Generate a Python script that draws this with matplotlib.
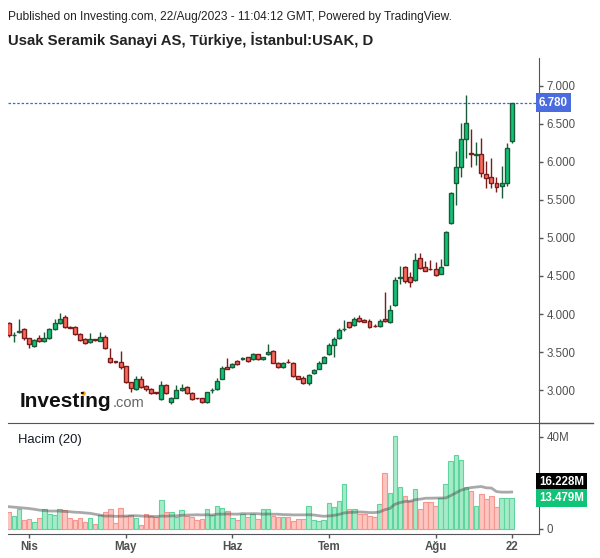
import matplotlib
matplotlib.use("Agg")
import matplotlib.pyplot as plt
from matplotlib.lines import Line2D
import numpy as np
import pandas as pd

plt.rcParams['font.family'] = ['Liberation Sans', 'DejaVu Sans']

# daily OHLC, Mar 28 - Aug 22 2023 (trading days)
opens = [3.88, 3.72, 3.76, 3.80, 3.68, 3.58, 3.68, 3.64, 3.68, 3.80,
         3.88, 3.96, 3.83, 3.83, 3.74, 3.67, 3.63, 3.665, 3.65, 3.70,
         3.42, 3.375, 3.37, 3.31, 3.10, 3.01, 3.15, 3.05, 3.01, 2.965,
         2.88, 3.07, 2.84, 2.90, 3.00, 3.04, 2.96, 2.895, 2.89, 2.84,
         2.995, 3.01, 3.15, 3.30, 3.30, 3.38, 3.41, 3.43, 3.41, 3.47,
         3.41, 3.47, 3.51, 3.36, 3.30, 3.37, 3.36, 3.18, 3.16, 3.09,
         3.22, 3.28, 3.36, 3.47, 3.59, 3.68, 3.80, 3.89, 3.85, 3.95,
         3.92, 3.91, 3.845, 3.84, 3.93, 3.89, 4.12, 4.48, 4.62, 4.49,
         4.45, 4.74, 4.62, 4.595, 4.59, 4.53, 4.65, 5.20, 5.72, 5.93,
         6.30, 6.12, 6.09, 6.10, 5.84, 5.80, 5.72, 5.69, 5.72, 6.28]
highs = [3.89, 3.76, 3.93, 3.82, 3.69, 3.67, 3.72, 3.76, 3.81, 3.93,
         4.01, 3.99, 3.84, 3.84, 3.75, 3.68, 3.75, 3.67, 3.76, 3.72,
         3.55, 3.38, 3.51, 3.32, 3.11, 3.19, 3.18, 3.06, 3.02, 2.97,
         3.12, 3.08, 2.91, 3.07, 3.08, 3.05, 2.97, 2.90, 2.90, 2.98,
         3.03, 3.16, 3.31, 3.42, 3.36, 3.39, 3.44, 3.44, 3.49, 3.48,
         3.44, 3.60, 3.52, 3.37, 3.37, 3.41, 3.37, 3.19, 3.18, 3.21,
         3.28, 3.38, 3.45, 3.62, 3.70, 3.82, 3.92, 3.90, 3.96, 3.99,
         3.93, 3.93, 3.87, 3.93, 4.29, 4.12, 4.49, 4.63, 4.63, 4.55,
         4.80, 4.80, 4.70, 4.71, 4.68, 4.72, 5.09, 5.60, 6.14, 6.51,
         6.88, 6.43, 6.26, 6.32, 6.01, 6.05, 5.80, 5.95, 6.25, 6.78]
lows = [3.70, 3.63, 3.75, 3.66, 3.55, 3.57, 3.63, 3.63, 3.67, 3.79,
        3.87, 3.82, 3.81, 3.73, 3.64, 3.61, 3.62, 3.64, 3.64, 3.54,
        3.36, 3.36, 3.28, 3.09, 2.97, 3.00, 3.03, 2.99, 2.95, 2.95,
        2.87, 2.95, 2.82, 2.89, 2.99, 2.95, 2.87, 2.88, 2.83, 2.83,
        2.96, 3.00, 3.14, 3.27, 3.29, 3.33, 3.40, 3.37, 3.40, 3.40,
        3.40, 3.46, 3.35, 3.29, 3.29, 3.36, 3.17, 3.14, 3.08, 3.07,
        3.21, 3.27, 3.35, 3.46, 3.43, 3.67, 3.78, 3.82, 3.84, 3.90,
        3.89, 3.82, 3.83, 3.83, 3.90, 3.88, 4.11, 4.40, 4.41, 4.36,
        4.44, 4.59, 4.56, 4.58, 4.50, 4.52, 4.64, 5.18, 5.43, 5.80,
        6.05, 5.93, 5.96, 5.80, 5.66, 5.66, 5.60, 5.53, 5.68, 6.25]
closes = [3.72, 3.73, 3.77, 3.68, 3.60, 3.66, 3.64, 3.68, 3.80, 3.88,
          3.93, 3.83, 3.82, 3.74, 3.66, 3.62, 3.67, 3.655, 3.70, 3.55,
          3.37, 3.37, 3.30, 3.10, 3.03, 3.15, 3.04, 3.01, 2.96, 2.96,
          3.07, 2.96, 2.90, 3.00, 3.03, 2.96, 2.88, 2.89, 2.84, 2.97,
          3.00, 3.12, 3.29, 3.28, 3.34, 3.34, 3.42, 3.38, 3.47, 3.41,
          3.43, 3.50, 3.36, 3.30, 3.36, 3.365, 3.18, 3.15, 3.09, 3.20,
          3.26, 3.36, 3.43, 3.59, 3.67, 3.79, 3.805, 3.83, 3.93, 3.91,
          3.90, 3.83, 3.84, 3.91, 3.91, 4.05, 4.45, 4.49, 4.43, 4.42,
          4.71, 4.61, 4.57, 4.59, 4.51, 4.62, 5.08, 5.59, 5.93, 6.30,
          6.51, 6.11, 6.10, 5.86, 5.79, 5.72, 5.67, 5.72, 6.18, 6.78]

# volume in millions
volume = [7.2, 5.4, 8.4, 3.8, 4.2, 2.9, 4.6, 8.8, 6.4, 6.0,
          8.8, 8.1, 4.5, 3.8, 4.5, 2.9, 4.5, 2.0, 5.8, 7.2,
          8.4, 2.3, 9.0, 5.7, 6.0, 4.5, 1.6, 6.3, 5.4, 4.9,
          12.6, 7.2, 7.2, 4.9, 8.1, 5.7, 5.2, 3.9, 4.2, 8.8,
          5.9, 9.7, 9.0, 7.8, 4.5, 3.9, 6.5, 4.9, 6.5, 4.2,
          8.4, 8.8, 5.4, 4.9, 4.9, 4.9, 3.3, 4.2, 4.2, 10.1,
          3.8, 3.3, 3.8, 11.0, 9.3, 12.0, 19.7, 8.8, 8.8, 6.4,
          6.6, 5.4, 5.0, 10.6, 24.4, 15.7, 40.3, 18.4, 14.1, 12.0,
          17.2, 8.4, 11.6, 11.6, 10.1, 13.2, 19.3, 29.7, 32.3, 30.1,
          18.4, 16.4, 9.7, 15.1, 12.8, 14.1, 9.3, 13.6, 13.6, 13.479]
# MA(20) values for the first bars (earlier history is off-chart)
vol_ma_start = [9.6, 9.4, 9.2, 9.0, 8.8, 8.5, 8.1, 7.9, 7.7, 7.7,
                7.7, 7.5, 7.4, 7.2, 7.1, 6.9, 6.7, 6.3, 5.9]
vol_ma_last = 16.228

month_ticks = [4, 23, 44, 63, 84, 99]
month_labels = ["Nis", "May", "Haz", "Tem", "Ağu", "22"]

W, H = 600, 558
fig = plt.figure(figsize=(W / 100, H / 100), dpi=100)

def fx(px):
    return px / W

def fy(py):
    return 1 - py / H

ax = fig.add_axes([fx(7.5), fy(423), fx(539 - 7.5), (423 - 58) / H])
ax2 = fig.add_axes([fx(7.5), fy(534), fx(539 - 7.5), (534 - 423) / H])

idx = np.arange(len(closes))
o = np.array(opens)
c = np.array(closes)
up = c >= o

green, green_edge = "#10c477", "#1b5a38"
red, red_edge = "#fb6b5c", "#7a1c1c"

ax.vlines(idx, lows, highs, colors=np.where(up, green_edge, red_edge), lw=1, zorder=2)
body_bot = np.minimum(o, c)
body_h = np.maximum(np.abs(c - o), 0.008)
ax.bar(idx, body_h, bottom=body_bot, width=0.78,
       color=np.where(up, green, red), edgecolor=np.where(up, green_edge, red_edge),
       linewidth=1, zorder=3)

ax.axhline(closes[-1], color="#3f63dc", lw=0.9, ls=(0, (2, 1.5)), zorder=1)

ax.set_xlim(-0.26, 104.37)
ax.set_ylim(2.566, 7.368)
ax.set_yticks(np.arange(3.0, 7.01, 0.5))
ax.set_yticklabels([f"{v:.3f}" for v in np.arange(3.0, 7.01, 0.5)])
ax.yaxis.tick_right()
ax.tick_params(axis="y", colors="#555555", labelcolor="#505050", labelsize=8.3,
               length=3, width=1, pad=2.5)
ax.set_xticks([])
for s in ["top", "left", "bottom"]:
    ax.spines[s].set_visible(False)
ax.spines["right"].set_color("#555555")

ax.text(1.0, closes[-1], f"{closes[-1]:.3f}", transform=ax.get_yaxis_transform(),
        ha="left", va="center", color="white", fontsize=8.3, fontweight="bold",
        bbox=dict(boxstyle="square,pad=0.28", fc="#4a6cdf", ec="none"), zorder=5,
        clip_on=False)

# volume panel
vol_up_fill, vol_up_edge = "#a6ebc9", "#5fd49d"
vol_dn_fill, vol_dn_edge = "#fdc5c0", "#f5978e"
ax2.bar(idx, volume, width=0.9, color=np.where(up, vol_up_fill, vol_dn_fill),
        edgecolor=np.where(up, vol_up_edge, vol_dn_edge), linewidth=0.8, zorder=2)
ma = pd.Series(volume).rolling(20).mean().to_numpy()
ma[:len(vol_ma_start)] = vol_ma_start
ax2.plot(idx, ma, color="#555555", alpha=0.5, lw=2, zorder=3)

ax2.set_xlim(-0.26, 104.37)
ax2.set_ylim(-2.31, 46.1)
ax2.yaxis.tick_right()
ax2.set_yticks([0, 40])
ax2.set_yticklabels(["0", "40M"])
ax2.tick_params(axis="y", colors="#555555", labelcolor="#505050", labelsize=8.3,
                length=3, width=1, pad=2.5)
ax2.set_xticks(month_ticks)
ax2.set_xticklabels(month_labels, fontweight="bold")
ax2.tick_params(axis="x", colors="#555555", labelcolor="#505050", labelsize=8.3,
                length=3, width=1, pad=2)
ax2.spines["left"].set_visible(False)
for s in ["top", "right", "bottom"]:
    ax2.spines[s].set_color("#555555")

ax2.text(1.0, 0.468, f"{vol_ma_last:.3f}M", transform=ax2.transAxes,
         ha="left", va="center", color="white", fontsize=8.3, fontweight="bold",
         bbox=dict(boxstyle="square,pad=0.28", fc="black", ec="none"), zorder=5,
         clip_on=False)
ax2.text(1.0, volume[-1], f"{volume[-1]:.3f}M", transform=ax2.get_yaxis_transform(),
         ha="left", va="center", color="white", fontsize=8.3, fontweight="bold",
         bbox=dict(boxstyle="square,pad=0.28", fc="#10c477", ec="none"), zorder=5,
         clip_on=False)
ax2.text(fx(18 - 7.5) / fx(539 - 7.5), 0.85, "Hacim (20)", transform=ax2.transAxes,
         ha="left", va="center", fontsize=9.4, color="#131722")

# separator line continues past the price scale
fig.add_artist(Line2D([fx(539), fx(593)], [fy(423), fy(423)], color="#555555", lw=1))

fig.text(fx(8), fy(17), "Published on Investing.com, 22/Aug/2023 - 11:04:12 GMT, Powered by TradingView.",
         ha="left", va="center", fontsize=8.6, color="#222222")
fig.text(fx(8), fy(40), "Usak Seramik Sanayi AS, Türkiye, İstanbul:USAK, D",
         ha="left", va="center", fontsize=10.7, fontweight="bold", color="#222222")

# watermark
renderer = fig.canvas.get_renderer()
logo = fig.text(fx(20), fy(407), "Investing", ha="left", va="baseline", fontsize=15,
                fontweight="bold", color="#111111")
head = fig.text(fx(20), fy(407), "Invest", ha="left", va="baseline", fontsize=15,
                fontweight="bold", alpha=0)
ichar = fig.text(fx(20), fy(407), "i", ha="left", va="baseline", fontsize=15,
                 fontweight="bold", alpha=0)
logo_right = logo.get_window_extent(renderer).x1
dot_x = head.get_window_extent(renderer).x1 + ichar.get_window_extent(renderer).width / 2
fig.text(logo_right / W + 0.002, fy(407), ".com", ha="left", va="baseline", fontsize=10.5,
         color="#666666")
fig.add_artist(Line2D([dot_x / W], [fy(393)], marker="o", ms=3.3, color="#f5a623", mec="none"))

fig.savefig("out.png", dpi=100)
